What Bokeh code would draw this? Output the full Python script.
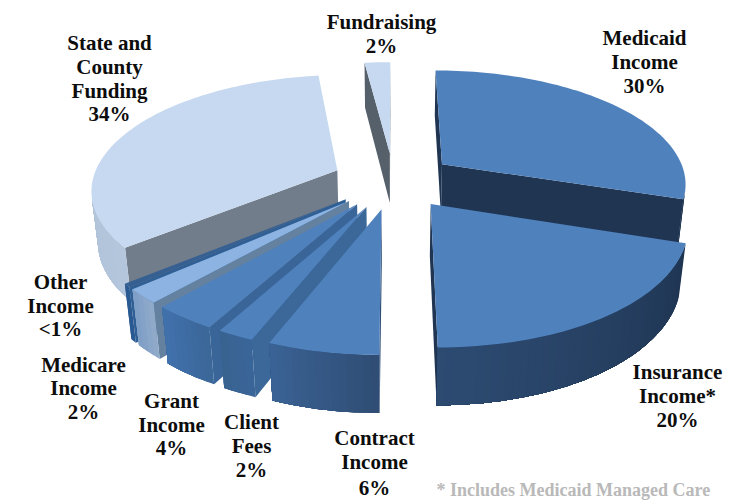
import math
from bokeh.plotting import figure
from bokeh.models import ColumnDataSource, Range1d
from bokeh.core.properties import value
from bokeh.embed import file_html
from bokeh.resources import INLINE

# data
categories = ["Medicaid Income", "Insurance Income*", "Contract Income", "Client Fees", "Grant Income",
              "Medicare Income", "Other Income", "State and County Funding", "Fundraising"]
shares = [30, 20, 6, 2, 3.5, 2, 0.5, 34, 2]

# label text
label_lines = [
    ["Medicaid", "Income", "30%"], ["Insurance", "Income*", "20%"], ["Contract", "Income", "6%"],
    ["Client", "Fees", "2%"], ["Grant", "Income", "4%"], ["Medicare", "Income", "2%"],
    ["Other", "Income", "<1%"], ["State and", "County", "Funding", "34%"], ["Fundraising", "2%"],
]
label_x = [644, 677, 374, 251, 171, 83, 60, 109, 381]
label_y = [[37, 61, 85], [371, 395, 419], [437, 461, 487], [421, 445, 469], [400, 424, 447],
           [364, 387, 411], [281, 305, 328], [42, 66, 90, 113], [21, 45]]
note = "* Includes Medicaid Managed Care"

# styles: top colour, rim wall colour at start/end angle, radial wall colour
top_col = ["#4f81bd", "#4f81bd", "#4f81bd", "#4f81bd", "#4f81bd", "#8db3e2", "#376092", "#c6d9f1", "#c6d9f1"]
rim_a = ["#1f3552", "#1f3552", "#2f4d75", "#3a6598", "#3b6799", "#8fa9c9", "#2a5a92", "#b4c6dc", "#56606b"]
rim_b = ["#1f3552", "#2d4b72", "#3b6496", "#38628f", "#4272ae", "#7a9cc5", "#2a5a92", "#a9bbd2", "#56606b"]
radial = ["#1f3552", "#1f3552", "#2f4d75", "#3b6899", "#3a6599", "#64829f", "#2f5f94", "#717d8a", "#56606b"]
draw_order = [8, 7, 0, 6, 5, 4, 3, 2, 1]

# projection parameters
X0, Y0, RX, RY, K, DEPTH, SHRINK, EXPLODE = 393, 180, 245, 113, 0.155, 52, 0.022, 0.25


def project(px, py, d):
    w = 1 - K * py + SHRINK * d
    return X0 + RX * px / w, Y0 + (RY * py + DEPTH * d) / w


def mix(c1, c2, t):
    a = [int(c1[i:i + 2], 16) for i in (1, 3, 5)]
    b = [int(c2[i:i + 2], 16) for i in (1, 3, 5)]
    return "#%02x%02x%02x" % tuple(round(u + (v - u) * t) for u, v in zip(a, b))


def area(pts):
    return sum(pts[i][0] * pts[(i + 1) % len(pts)][1] - pts[(i + 1) % len(pts)][0] * pts[i][1]
               for i in range(len(pts)))


total = sum(shares)
starts = []
acc = 0
for s in shares:
    starts.append(acc / total * 2 * math.pi)
    acc += s

xs, ys, cols = [], [], []


def add(pts, c):
    xs.append([q[0] for q in pts])
    ys.append([q[1] for q in pts])
    cols.append(c)


for i in draw_order:
    a0 = starts[i]
    da = shares[i] / total * 2 * math.pi
    mid = a0 + da / 2
    ox, oy = EXPLODE * math.sin(mid), -EXPLODE * math.cos(mid)
    n = max(2, int(math.degrees(da) / 1.5))
    world = [(ox, oy)]
    for j in range(n + 1):
        a = a0 + da * j / n
        world.append((ox + math.sin(a), oy - math.cos(a)))
    top = [project(u, v, 0) for u, v in world]
    bot = [project(u, v, 1) for u, v in world]
    sign = area(top)
    m = len(top)
    rim_idx = []
    for e in range(m):
        f = (e + 1) % m
        quad = [top[e], top[f], bot[f], bot[e]]
        if area(quad) * sign >= 0:
            continue
        if e == 0 or f == 0:
            add(quad, radial[i])
        else:
            rim_idx.append(e)
    if rim_idx:
        lo, hi = rim_idx[0], rim_idx[-1] + 1
        for e in rim_idx:
            # each band runs on to the end of the rim; the next band paints over it, so no seams show
            add(top[e:hi + 1] + bot[e:hi + 1][::-1], mix(rim_a[i], rim_b[i], (e - 1) / n))
    add(top, top_col[i])

p = figure(width=748, height=500, output_backend="svg", toolbar_location=None,
           x_range=Range1d(0, 748), y_range=Range1d(500, 0),
           x_axis_location=None, y_axis_location=None, min_border=0)
p.grid.visible = False
p.outline_line_color = None
p.patches("xs", "ys", source=ColumnDataSource(dict(xs=xs, ys=ys, c=cols)),
          fill_color="c", line_color=None)

tx, ty, tt = [], [], []
for lines, x, yy in zip(label_lines, label_x, label_y):
    for line, y in zip(lines, yy):
        tx.append(x)
        ty.append(y)
        tt.append(line)
p.text(tx, ty, text=tt, text_font=value("Liberation Serif"), text_font_style="bold",
       text_font_size="21px", text_color="#0d0d0d", text_align="center", text_baseline="middle")
p.text([436], [489], text=[note], text_font=value("Liberation Serif"), text_font_style="bold",
       text_font_size="18px", text_color="#b9b9b9", text_align="left", text_baseline="middle")

open("out.html", "w").write(file_html(p, INLINE))
